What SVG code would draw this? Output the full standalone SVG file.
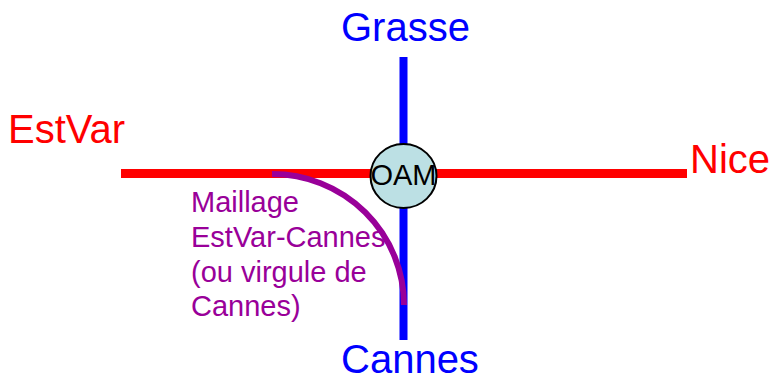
<svg xmlns="http://www.w3.org/2000/svg" width="774" height="378" viewBox="0 0 774 378">
  <style>
    text { font-family: "Liberation Sans", Arial, sans-serif; }
    .city { font-size: 40px; }
    .red { fill: #ff0000; }
    .blue { fill: #0000ff; }
    .line { fill: none; stroke-linecap: butt; }
    .label { font-size: 29px; fill: #990099; }
  </style>
  <rect width="774" height="378" fill="#ffffff"/>

  <!-- track lines and the EstVar-Cannes curve -->
  <g id="connectors">
    <line class="line" x1="121" y1="173.5" x2="687" y2="173.5" stroke="#ff0000" stroke-width="9"/>
    <line class="line" x1="403.5" y1="57" x2="403.5" y2="340" stroke="#0000ff" stroke-width="8"/>
    <path class="line" d="M272,174 A132,131 0 0 1 404,305" stroke="#990099" stroke-width="6"/>
  </g>

  <g id="oam">
    <ellipse cx="403.5" cy="176" rx="33" ry="32" fill="#bce0e4" stroke="#000000" stroke-width="2"/>
    <text x="403.5" y="185" font-size="29" text-anchor="middle" fill="#000000">OAM</text>
  </g>

  <g id="grasse">
    <text class="city blue" x="341" y="41">Grasse</text>
  </g>

  <g id="cannes">
    <text class="city blue" x="341" y="373">Cannes</text>
  </g>

  <g id="estvar">
    <text class="city red" x="8" y="143">EstVar</text>
  </g>

  <g id="nice">
    <text class="city red" x="690" y="173">Nice</text>
  </g>

  <g id="maillage-label">
    <text class="label" x="191" y="212">Maillage</text>
    <text class="label" x="191" y="247">EstVar-Cannes</text>
    <text class="label" x="191" y="282">(ou virgule de</text>
    <text class="label" x="191" y="316">Cannes)</text>
  </g>
</svg>
